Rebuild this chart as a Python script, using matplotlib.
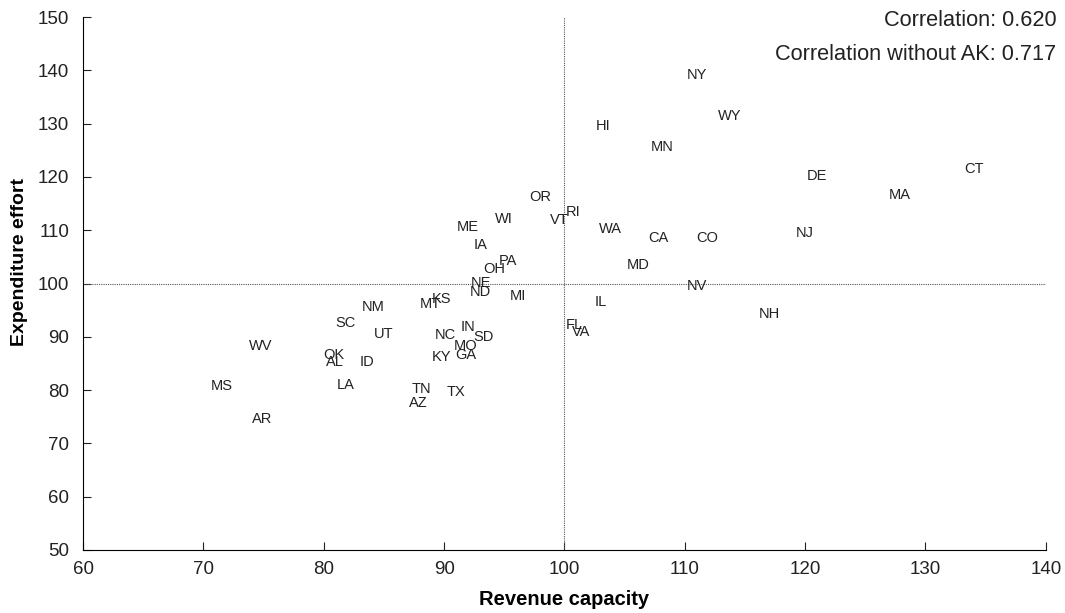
import matplotlib
matplotlib.use("Agg")
import matplotlib.pyplot as plt

# state labels, revenue capacity (x), expenditure effort (y)
states = ["NY", "WY", "HI", "MN", "DE", "CT", "MA", "OR", "RI", "VT",
          "WI", "ME", "WA", "CA", "CO", "NJ", "IA", "PA", "OH", "MD",
          "NE", "ND", "MI", "NV", "IL", "KS", "MT", "NM", "NH", "SC",
          "UT", "IN", "NC", "SD", "FL", "VA", "WV", "MO", "OK", "AL",
          "ID", "GA", "KY", "LA", "MS", "AR", "TN", "AZ", "TX"]
revenue = [111.0, 113.7, 103.2, 108.1, 121.0, 134.0, 127.9, 98.0, 100.7, 99.6,
           95.0, 92.0, 103.8, 107.8, 111.9, 120.0, 93.0, 95.3, 94.2, 106.1,
           93.1, 93.0, 96.1, 111.0, 103.0, 89.8, 88.9, 84.1, 117.0, 81.8,
           85.0, 92.0, 90.1, 93.3, 100.8, 101.4, 74.8, 91.8, 80.8, 80.9,
           83.6, 91.8, 89.8, 81.8, 71.5, 74.9, 88.1, 87.9, 91.0]
effort = [139.1, 131.4, 129.5, 125.6, 120.2, 121.5, 116.6, 116.2, 113.4, 111.9,
          112.1, 110.6, 110.2, 108.5, 108.5, 109.5, 107.2, 104.2, 102.7, 103.5,
          100.1, 98.4, 97.7, 99.5, 96.5, 97.1, 96.2, 95.6, 94.3, 92.6,
          90.5, 91.8, 90.3, 90.0, 92.2, 90.9, 88.3, 88.3, 86.6, 85.3,
          85.3, 86.6, 86.2, 81.0, 80.8, 74.6, 80.2, 77.6, 79.6]

corr_lines = ["Correlation: 0.620", "Correlation without AK: 0.717"]

plt.rcParams['font.family'] = ['Liberation Sans', 'DejaVu Sans']

fig = plt.figure(figsize=(10.65, 6.13), dpi=100)
ax = fig.add_axes([0.078, 0.103, 0.904, 0.869])

for s, x, y in zip(states, revenue, effort):
    ax.text(x, y, s, ha='center', va='center', fontsize=10.5, color='#222222')

ax.axvline(100, color='#555555', lw=0.8, ls=(0, (1, 1)))
ax.axhline(100, color='#555555', lw=0.8, ls=(0, (1, 1)))

ax.set_xlim(60, 140)
ax.set_ylim(50, 150)
ax.set_xticks(range(60, 141, 10))
ax.set_yticks(range(50, 151, 10))
ax.spines['top'].set_visible(False)
ax.spines['right'].set_visible(False)
ax.tick_params(direction='in', length=6, labelsize=13.5, colors='#222222')
ax.tick_params(axis='x', pad=8)
ax.tick_params(axis='y', pad=10)

ax.set_xlabel("Revenue capacity", fontsize=14.5, fontweight='bold', va='center')
ax.set_ylabel("Expenditure effort", fontsize=14, fontweight='bold', va='center')
ax.xaxis.set_label_coords(0.5, -0.094)
ax.yaxis.set_label_coords(-0.066, 0.54)

fig.text(0.992, 0.966, corr_lines[0], ha='right', va='center', fontsize=15.7, color='#222222')
fig.text(0.992, 0.911, corr_lines[1], ha='right', va='center', fontsize=15.7, color='#222222')

fig.savefig("out.png", dpi=100)
